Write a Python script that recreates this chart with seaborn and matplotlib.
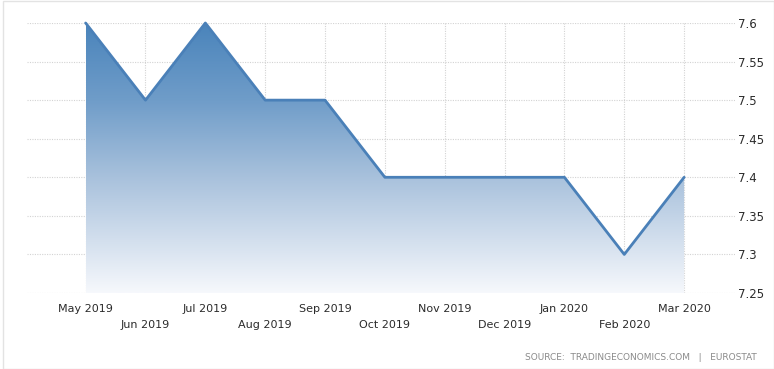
import numpy as np
import pandas as pd
import seaborn as sns
import matplotlib.pyplot as plt
from matplotlib.patches import Rectangle
from matplotlib.colors import LinearSegmentedColormap

months = ["May 2019", "Jun 2019", "Jul 2019", "Aug 2019", "Sep 2019", "Oct 2019",
          "Nov 2019", "Dec 2019", "Jan 2020", "Feb 2020", "Mar 2020"]
rate = [7.6, 7.5, 7.6, 7.5, 7.5, 7.4, 7.4, 7.4, 7.4, 7.3, 7.4]
yticks = [7.25, 7.3, 7.35, 7.4, 7.45, 7.5, 7.55, 7.6]

df = pd.DataFrame({"idx": range(len(months)), "month": months, "rate": rate})

sns.set_style("white")
plt.rcParams['font.family'] = ['DejaVu Sans']

W, H = 774, 369
fig = plt.figure(figsize=(W / 100, H / 100), dpi=100)
ax = fig.add_axes([27 / W, 1 - 293 / H, (735 - 27) / W, (293 - 23) / H])

line_col = "#4a80b8"

# gradient area under the line
fill = ax.fill_between(df["idx"], df["rate"], 7.25, color="none")
grad = np.linspace(0, 1, 256).reshape(-1, 1)
cmap = LinearSegmentedColormap.from_list(
    "g", [(0, "#f6f8fc"), (0.43, "#a8c1dc"), (0.71, "#709dc9"), (1, "#4a84bb")])
img = ax.imshow(grad, extent=[0, len(months) - 1, 7.25, 7.6], origin="lower",
                aspect="auto", cmap=cmap, zorder=1)
img.set_clip_path(fill.get_paths()[0], transform=ax.transData)

sns.lineplot(data=df, x="idx", y="rate", ax=ax, color=line_col, linewidth=2,
             zorder=3, clip_on=False)

ax.set_xlim(-0.98, len(months) - 1 + 0.85)
ax.set_ylim(7.25, 7.6)

ax.set_xticks(df["idx"])
ax.set_xticklabels([m if i % 2 == 0 else "\n" + m for i, m in enumerate(months)],
                   fontsize=8, color="#2b2b2b", linespacing=1.7)
ax.set_yticks(yticks)
ax.set_yticklabels([f"{v:g}" for v in yticks], fontsize=8.5, color="#2b2b2b")
ax.yaxis.tick_right()
ax.tick_params(axis="x", length=0, pad=8)
ax.tick_params(axis="y", length=0, pad=2)

ax.grid(True, linestyle=(0, (1, 1.2)), color="#c8c8c8", linewidth=0.8, alpha=0.8, zorder=2)
for s in ax.spines.values():
    s.set_visible(False)
ax.set_xlabel("")
ax.set_ylabel("")

fig.patches.append(Rectangle((3 / W, 0), 1 - 3.5 / W, 1 - 1 / H, transform=fig.transFigure,
                             fill=False, edgecolor="#e3e3e3", linewidth=1))

fig.text(757 / W, 1 - 358 / H, "SOURCE:  TRADINGECONOMICS.COM   |   EUROSTAT",
         ha="right", va="center", fontsize=6.5, color="#8a8a8a")

fig.savefig("out.png", dpi=100)
